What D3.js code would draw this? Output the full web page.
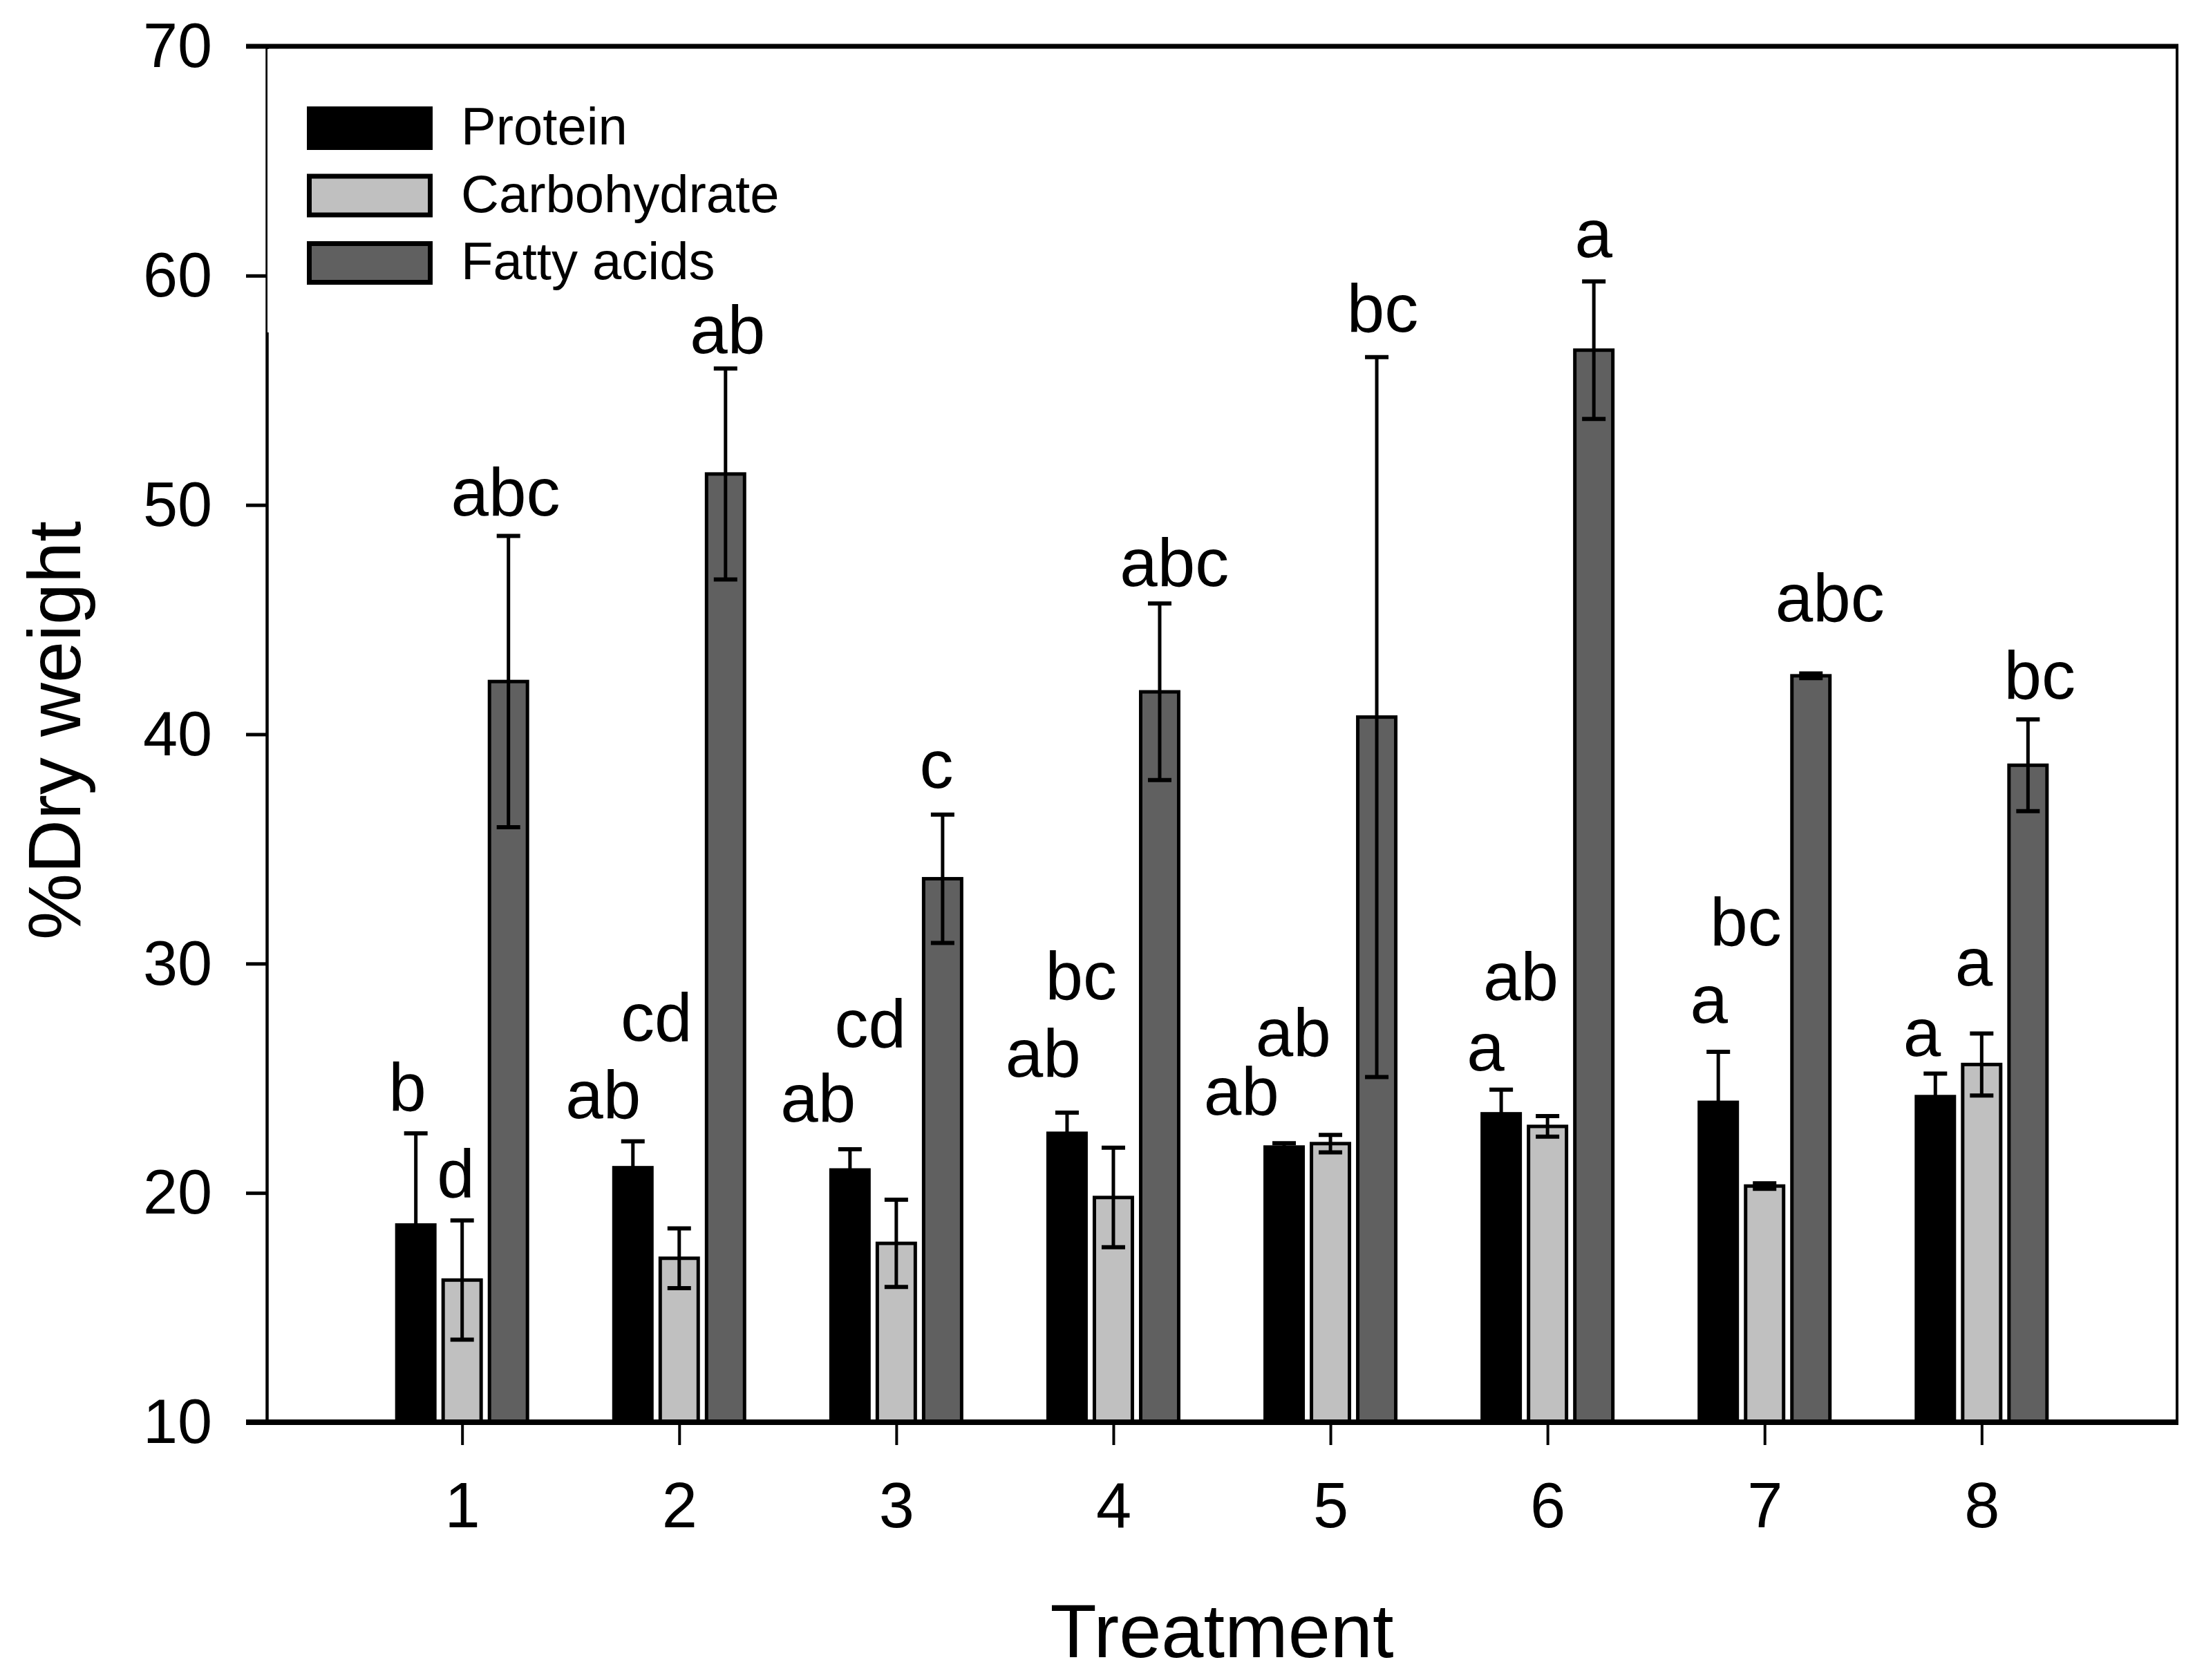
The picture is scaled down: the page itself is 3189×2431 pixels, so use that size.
<!DOCTYPE html>
<html><head><meta charset="utf-8">
<script src="https://cdn.jsdelivr.net/npm/d3@7"></script>
<style>body{margin:0;background:#fff} text{font-family:"Liberation Sans",Arial,sans-serif;fill:#000}</style>
</head><body>
<svg id="chart" width="3189" height="2431"></svg>
<script>
// ---- data ----
const treatments = [1, 2, 3, 4, 5, 6, 7, 8];
const seriesNames = ["Protein", "Carbohydrate", "Fatty acids"];
const seriesColors = ["#000000", "#c0c0c0", "#606060"];
const protein    = [18.6, 21.1, 21.0, 22.6, 22.0, 23.45, 23.95, 24.2];
const proteinErr = [4.0, 1.15, 0.9, 0.9, 0.17, 1.05, 2.2, 1.0];
const carb       = [16.2, 17.15, 17.8, 19.8, 22.15, 22.9, 20.3, 25.6];
const carbErr    = [2.6, 1.3, 1.9, 2.17, 0.38, 0.45, 0.12, 1.35];
const fatty      = [42.3, 51.35, 33.7, 41.85, 40.75, 56.75, 42.55, 38.65];
const fattyErr   = [6.35, 4.6, 2.8, 3.85, 15.7, 3.0, 0.1, 2.0];
const yTicks = [10, 20, 30, 40, 50, 60, 70];

// significance letters (positions in data units: treatment, %)
const proteinLetters = ["b", "ab", "ab", "ab", "ab", "a", "a", "a"];
const proteinLetterX = [0.748, 1.650, 2.64, 3.676, 4.590, 5.715, 6.744, 7.725];
const proteinLetterY = [23.59, 23.26, 23.1, 25.07, 23.41, 25.33, 27.41, 25.98];
const carbLetters = ["d", "cd", "cd", "bc", "ab", "ab", "bc", "a"];
const carbLetterX = [0.971, 1.895, 2.880, 3.851, 4.829, 5.877, 6.913, 7.964];
const carbLetterY = [19.82, 26.63, 26.36, 28.44, 25.98, 28.41, 30.79, 29.04];
const fattyLetters = ["abc", "ab", "c", "abc", "bc", "a", "abc", "bc"];
const fattyLetterX = [1.20, 2.223, 3.185, 4.281, 5.24, 6.212, 7.301, 8.267];
const fattyLetterY = [49.54, 56.62, 37.66, 46.46, 57.55, 60.8, 44.93, 41.55];

const series = [
  {name: seriesNames[0], color: seriesColors[0], values: protein, err: proteinErr},
  {name: seriesNames[1], color: seriesColors[1], values: carb, err: carbErr},
  {name: seriesNames[2], color: seriesColors[2], values: fatty, err: fattyErr}
];
const letterSets = [
  {t: proteinLetters, xs: proteinLetterX, ys: proteinLetterY},
  {t: carbLetters, xs: carbLetterX, ys: carbLetterY},
  {t: fattyLetters, xs: fattyLetterX, ys: fattyLetterY}
];

// ---- scales ----
const svg = d3.select("#chart");
const x = d3.scaleLinear().domain([0.1, 8.9]).range([386, 3150]);
const y = d3.scaleLinear().domain([10, 70]).range([2058, 67]);
const sub = d3.scaleBand().domain(seriesNames).range([-97, 97]).paddingInner(0.105);
const tickLen = 30;

svg.append("rect").attr("width", 3189).attr("height", 2431).attr("fill", "#fff");

// ---- axes ----
const yAxis = d3.axisLeft(y).tickValues(yTicks).tickSize(tickLen).tickSizeOuter(0).tickPadding(49);
const gy = svg.append("g").attr("transform", `translate(${x(0.1)},0)`).call(yAxis);
gy.select(".domain").attr("stroke", "#000").attr("stroke-width", 4.5);
gy.selectAll(".tick line").attr("stroke", "#000").attr("stroke-width", 5);
gy.selectAll(".tick text").attr("font-size", 90).attr("font-family", "Liberation Sans, Arial, sans-serif").attr("fill", "#000").attr("dy", "0.33em");

// legend background (covers part of the axis as in the original)
svg.append("rect").attr("x", x(0.1) + 1).attr("y", y(70) + 4).attr("width", 770).attr("height", 410).attr("fill", "#fff");

// ---- bars ----
const bw = sub.bandwidth();
series.forEach(s => {
  const g = svg.append("g");
  g.selectAll("rect").data(treatments).enter().append("rect")
    .attr("x", (t) => x(t) + sub(s.name) + 2.5)
    .attr("width", bw - 5)
    .attr("y", (t, i) => y(s.values[i]))
    .attr("height", (t, i) => y(10) - y(s.values[i]))
    .attr("fill", s.color)
    .attr("stroke", "#000")
    .attr("stroke-width", 5);
});

// ---- error bars ----
series.forEach(s => {
  const g = svg.append("g").attr("stroke", "#000");
  treatments.forEach((t, i) => {
    const cx = x(t) + sub(s.name) + bw / 2;
    const lo = y(s.values[i] - s.err[i]), hi = y(s.values[i] + s.err[i]);
    g.append("line").attr("x1", cx).attr("x2", cx).attr("y1", lo).attr("y2", hi).attr("stroke-width", 5);
    g.append("line").attr("x1", cx - 17).attr("x2", cx + 17).attr("y1", hi).attr("y2", hi).attr("stroke-width", 6);
    g.append("line").attr("x1", cx - 17).attr("x2", cx + 17).attr("y1", lo).attr("y2", lo).attr("stroke-width", 6);
  });
});

// ---- x axis ----
const xAxis = d3.axisBottom(x).tickValues(treatments).tickSize(33).tickSizeOuter(0).tickFormat(d3.format("d"));
const gx = svg.append("g").attr("transform", `translate(0,${y(10)})`).call(xAxis);
gx.select(".domain").remove();
gx.selectAll(".tick line").attr("stroke", "#000").attr("stroke-width", 4);
gx.selectAll(".tick text").attr("font-size", 92).attr("font-family", "Liberation Sans, Arial, sans-serif").attr("fill", "#000")
  .attr("y", 152).attr("dy", 0);

// frame lines
svg.append("line").attr("x1", x(0.1) - tickLen).attr("x2", x(8.9) + 2).attr("y1", y(10)).attr("y2", y(10)).attr("stroke", "#000").attr("stroke-width", 8);
svg.append("line").attr("x1", x(0.1) - tickLen).attr("x2", x(8.9) + 2).attr("y1", y(70)).attr("y2", y(70)).attr("stroke", "#000").attr("stroke-width", 7);
svg.append("line").attr("x1", x(8.9)).attr("x2", x(8.9)).attr("y1", y(70)).attr("y2", y(10)).attr("stroke", "#000").attr("stroke-width", 4);

// ---- letters ----
letterSets.forEach(L => {
  svg.append("g").selectAll("text").data(L.t).enter().append("text")
    .attr("x", (d, i) => x(L.xs[i]))
    .attr("y", (d, i) => y(L.ys[i]))
    .attr("text-anchor", "middle")
    .attr("font-size", 98)
    .text(d => d);
});

// ---- legend ----
const lg = svg.append("g");
series.forEach((s, i) => {
  const top = 154 + i * 97.5;
  lg.append("rect").attr("x", 447.5).attr("y", top + 3.5).attr("width", 175).attr("height", 56)
    .attr("fill", s.color).attr("stroke", "#000").attr("stroke-width", 7);
  lg.append("text").attr("x", 667).attr("y", top + 55).attr("font-size", 76).text(s.name);
});

// ---- titles ----
svg.append("text").attr("transform", "translate(116,1057) rotate(-90)").attr("text-anchor", "middle")
  .attr("font-size", 108).text("%Dry weight");
svg.append("text").attr("x", 1768).attr("y", 2398).attr("text-anchor", "middle")
  .attr("font-size", 110).text("Treatment");
</script>
</body></html>
